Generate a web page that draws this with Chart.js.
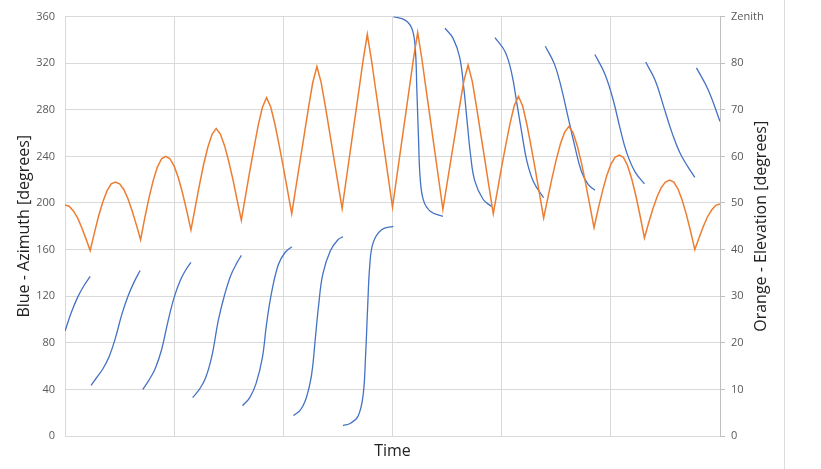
<!DOCTYPE html>
<html><head><meta charset="utf-8">
<script src="https://cdn.jsdelivr.net/npm/chart.js@4/dist/chart.umd.min.js"></script>
<style>
html,body{margin:0;padding:0;background:#fff;}
#wrap{position:relative;width:821px;height:469px;overflow:hidden;}
#edge{position:absolute;left:784px;top:0;width:1px;height:469px;background:#dcdcdc;}
</style></head><body>
<div id="wrap"><canvas id="c" width="821" height="469"></canvas><div id="edge"></div></div>
<script>
// ---- data ----
const timeMin = 0, timeMax = 78, timeGridStep = 13;
const azimuthRange = [0, 360], azimuthStep = 40;
const elevationRange = [0, 90], elevationStep = 10;
const zenithLabel = 'Zenith';

// Orange: elevation [deg], sampled every 0.5 time units from t=0
const elevStep = 0.5;
const elevation = [
  49.6, 49.3, 48.3, 46.8, 44.7, 42.3, 39.8,
  43.6, 47.2, 50.2, 52.6, 54.1, 54.5,
  54.1, 52.9, 50.9, 48.3, 45.3, 42.1,
  46.8, 51.1, 54.8, 57.7, 59.5, 60.0,
  59.5, 57.9, 55.4, 52.1, 48.3, 44.2,
  49.0, 53.8, 58.2, 61.9, 64.7, 66.0,
  64.8, 62.3, 58.9, 55.0, 50.6, 46.3,
  51.6, 56.8, 61.8, 66.6, 70.5, 72.6,
  70.6, 66.9, 62.4, 57.7, 52.7, 47.7,
  53.4, 59.1, 64.8, 70.5, 75.8, 79.3,
  75.9, 70.8, 65.3, 59.8, 54.3, 48.8,
  55.2, 61.5, 67.9, 74.2, 80.6, 86.2,
  80.6, 74.3, 68.0, 61.7, 55.4, 49.1,
  55.5, 61.9, 68.2, 74.6, 81.0, 86.6,
  80.9, 74.4, 68.0, 61.5, 55.1, 48.6,
  54.2, 59.8, 65.3, 70.9, 76.2, 79.6,
  76.1, 70.7, 64.9, 59.2, 53.4, 47.7,
  52.7, 57.8, 62.6, 67.1, 70.9, 72.9,
  70.8, 66.9, 62.2, 57.2, 52.0, 46.8,
  51.1, 55.4, 59.3, 62.7, 65.2, 66.4,
  65.1, 62.3, 58.6, 54.2, 49.5, 44.7,
  48.8, 52.5, 55.8, 58.3, 59.8, 60.3,
  59.8, 58.0, 55.1, 51.4, 47.1, 42.5,
  45.7, 48.7, 51.3, 53.3, 54.5, 54.9,
  54.5, 53.0, 50.6, 47.5, 43.9, 40.0,
  42.5, 44.9, 47.0, 48.5, 49.5, 49.8
];

// Blue: azimuth [deg], one array of [time, azimuth] per pass
const pass1  = [[0,90],[0.75,106],[1.5,119],[2.25,129],[3,137]];
const pass2  = [[3.1,43.5],[3.75,50],[4.5,57.5],[5.25,68],[6,84],[6.75,104],[7.5,120],[8.25,132.5],[8.95,142]];
const pass3  = [[9.25,40],[10,48],[10.75,58],[11.5,74],[12.25,98],[13,119],[13.75,134],[14.5,144],[15,149]];
const pass4  = [[15.2,33],[16,40],[16.75,50],[17.5,69],[18.25,99],[19,121],[19.75,138],[20.5,149],[21,155]];
const pass5  = [[21.15,26],[22,33],[22.75,45],[23.5,67],[24,96],[24.6,123],[25.4,147],[26.2,157.5],[27,162.5]];
const pass6  = [[27.2,17.5],[28,22],[28.6,30],[29.2,46],[29.5,60],[29.8,83],[30.2,112],[30.7,139],[31.6,159],[32.5,168.5],[33.1,171]];
const pass7  = [[33.1,9],[34,11],[34.9,17],[35.5,35],[35.8,70],[36.05,112],[36.3,147],[36.7,166],[37.7,177],[39.1,180]];
const pass8  = [[39.1,360],[40.5,357],[41.3,350],[41.7,334],[41.9,297],[42.1,255],[42.3,221],[42.7,202],[43.5,193],[45,188.5]];
const pass9  = [[45.25,350],[46.2,341.5],[47,325],[47.5,298],[47.9,269],[48.3,241],[48.8,219],[49.8,203],[50.8,197]];
const pass10 = [[51.2,342],[52.4,330],[53.2,311],[53.8,286],[54.4,260],[55,236],[55.8,218],[57,204.5]];
const pass11 = [[57.2,334.5],[58.3,319],[59.1,299],[59.9,274],[60.7,249],[61.5,227],[62.3,216],[63.1,211]];
const pass12 = [[63.1,327.5],[64.3,310.5],[65.3,288],[66.1,264],[66.9,243],[67.9,226.5],[69,216.5]];
const pass13 = [[69.15,321],[70.3,305],[71.3,282.5],[72.3,260],[73.4,240.5],[75,222]];
const pass14 = [[75.2,316],[76.6,297],[78,270]];
const bluePasses = [pass1,pass2,pass3,pass4,pass5,pass6,pass7,pass8,pass9,pass10,pass11,pass12,pass13,pass14];

// ---- build ----
const orangePts = elevation.map((v, i) => ({x: i * elevStep, y: v}));
const bluePts = [];
bluePasses.forEach((p, k) => {
  if (k > 0) bluePts.push({x: p[0][0], y: null});
  p.forEach(([t, a]) => bluePts.push({x: t, y: a}));
});

const fam = "'Open Sans', 'Liberation Sans', sans-serif";
const tickFont = {family: fam, size: 11};
const titleFont = {family: fam, size: 16};
const gridCol = '#d9d9d9';
const rightTitle = 'Orange - Elevation [degrees]';

// right-axis title reads bottom-to-top, like the left one
const rightTitlePlugin = {
  id: 'rightTitle',
  afterDraw(chart) {
    const s = chart.scales.y2;
    const ctx = chart.ctx;
    ctx.save();
    ctx.font = `16px ${fam}`;
    ctx.fillStyle = '#222';
    ctx.textAlign = 'center';
    ctx.textBaseline = 'middle';
    ctx.translate(s.right - 20, (s.top + s.bottom) / 2);
    ctx.rotate(-Math.PI / 2);
    ctx.fillText(rightTitle, 0, 0);
    ctx.restore();
  }
};

new Chart(document.getElementById('c'), {
  type: 'line',
  data: {
    datasets: [
      {label: 'Elevation', data: orangePts, yAxisID: 'y2', borderColor: '#ED7D31', borderWidth: 1.5,
       pointRadius: 0, tension: 0, fill: false},
      {label: 'Azimuth', data: bluePts, yAxisID: 'y', borderColor: '#4472C4', borderWidth: 1.3,
       pointRadius: 0, tension: 0.4, spanGaps: false, fill: false}
    ]
  },
  plugins: [rightTitlePlugin],
  options: {
    responsive: false, animation: false, events: [],
    layout: {padding: {left: 0, right: 40, top: 8, bottom: 0}},
    plugins: {legend: {display: false}, tooltip: {enabled: false}},
    scales: {
      x: {type: 'linear', min: timeMin, max: timeMax,
          ticks: {display: false, stepSize: timeGridStep},
          grid: {color: gridCol, drawTicks: false, lineWidth: 1},
          border: {display: false},
          title: {display: true, text: 'Time', color: '#222', font: titleFont, padding: {top: 0, bottom: 8}},
          afterFit: s => { s.height = 33; }},
      y: {position: 'left', min: azimuthRange[0], max: azimuthRange[1],
          ticks: {stepSize: azimuthStep, color: '#595959', font: tickFont, padding: 10},
          grid: {color: gridCol, drawTicks: false, lineWidth: 1},
          border: {display: false},
          title: {display: true, text: 'Blue - Azimuth [degrees]', color: '#222', font: titleFont, padding: {top: 15, bottom: 0}},
          afterFit: s => { s.width = 65; }},
      y2: {position: 'right', min: elevationRange[0], max: elevationRange[1],
          ticks: {stepSize: elevationStep, color: '#595959', font: tickFont, padding: 6,
                  callback: v => v === elevationRange[1] ? zenithLabel : v},
          grid: {drawOnChartArea: false, color: '#bfbfbf', tickLength: 5, drawTicks: true},
          border: {display: true, color: '#bfbfbf'},
          title: {display: false},
          afterFit: s => { s.width = 61; }}
    }
  }
});
</script>
</body></html>
